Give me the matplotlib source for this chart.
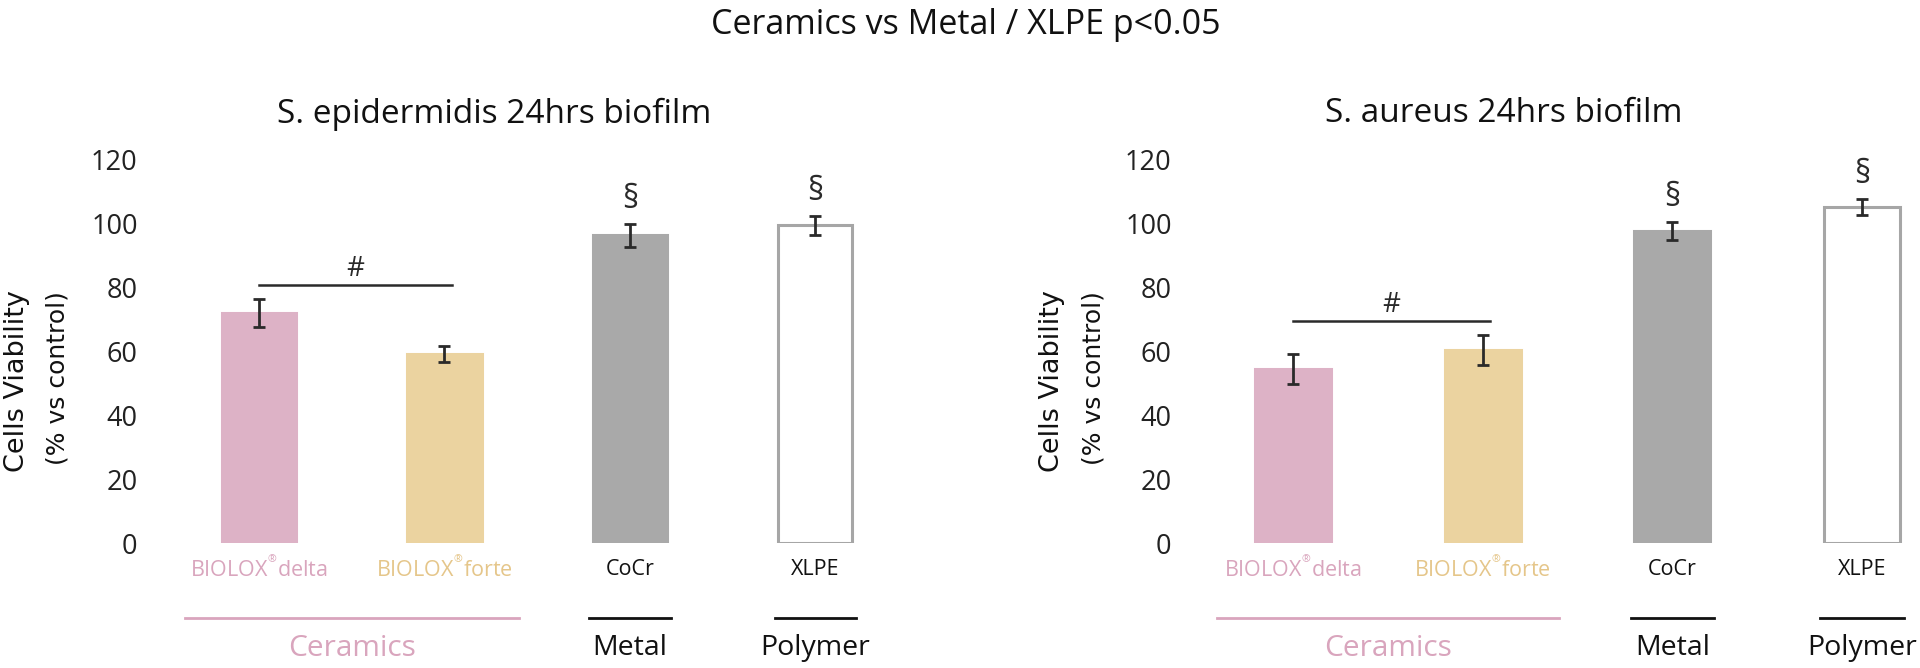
import matplotlib
matplotlib.use("Agg")
import matplotlib.pyplot as plt

plt.rcParams['font.family'] = ['Open Sans', 'DejaVu Sans']
plt.rcParams['mathtext.fontset'] = 'custom'
plt.rcParams['mathtext.rm'] = 'Open Sans'

# ---- data ----
categories = ["BIOLOX${}^{{}^{\\mathrm{®}}}$delta", "BIOLOX${}^{{}^{\\mathrm{®}}}$forte", "CoCr", "XLPE"]
groups = ["Ceramics", "Metal", "Polymer"]
panel_titles = ["S. epidermidis 24hrs biofilm", "S. aureus 24hrs biofilm"]
epi_values = [72.1, 59.2, 96.4, 99.6]
epi_errors = [4.4, 2.4, 3.7, 3.0]
aur_values = [54.5, 60.5, 97.8, 105.2]
aur_errors = [4.7, 4.8, 2.9, 2.5]
yticks = [0, 20, 40, 60, 80, 100, 120]
suptitle = "Ceramics vs Metal / XLPE p<0.05"

pink_bar = "#DDB2C6"
tan_bar = "#EBD3A0"
gray_bar = "#A9A9A9"
pink_txt = "#D9A5BD"
tan_txt = "#E5C68A"
bar_colors = [pink_bar, tan_bar, gray_bar, "white"]
edge_colors = [pink_bar, tan_bar, gray_bar, "#A6A6A6"]
label_colors = [pink_txt, tan_txt, "#111111", "#111111"]

fig = plt.figure(figsize=(19.2, 6.68), dpi=100)

panels = [
    dict(rect=[148/1920, 0.1871, 760/1920, 0.5734], xlim=(-0.599, 3.5),
         vals=epi_values, errs=epi_errors, title=panel_titles[0], title_x=494/1920,
         ylab_x=(17/1920, 58/1920)),
    dict(rect=[1182/1920, 0.1871, 737/1920, 0.5734], xlim=(-0.585, 3.3),
         vals=aur_values, errs=aur_errors, title=panel_titles[1], title_x=1504/1920,
         ylab_x=(1052/1920, 1093/1920)),
]

for p in panels:
    ax = fig.add_axes(p['rect'])
    x = list(range(len(categories)))
    ax.bar(x, p['vals'], width=0.4, color=bar_colors, edgecolor=edge_colors,
           linewidth=2.2, zorder=2)
    ax.errorbar(x, p['vals'], yerr=p['errs'], fmt='none', ecolor='#2a2a2a',
                elinewidth=2.0, capsize=4.5, capthick=2.0, zorder=3)
    ax.set_xlim(*p['xlim'])
    ax.set_ylim(0, 120)
    ax.set_yticks(yticks)
    ax.tick_params(axis='y', length=0, pad=7.5, labelsize=19.5, labelcolor='#222222')
    ax.set_xticks([])
    for s in ax.spines.values():
        s.set_visible(False)

    # significance bar (#) between the ceramics
    top = max(p['vals'][0] + p['errs'][0], p['vals'][1] + p['errs'][1])
    ax.plot([0, 1.04], [top + 4.3, top + 4.3], color='#2a2a2a', lw=1.8, clip_on=False)
    ax.text(0.52, top + 9.4, "#", ha='center', va='center', fontsize=20, color='#2a2a2a')
    # section marks
    for i in (2, 3):
        ax.text(i, p['vals'][i] + p['errs'][i] + 7.6, "§", ha='center', va='center',
                fontsize=23, color='#2a2a2a')

    # category labels
    for i, lab in enumerate(categories):
        ax.text(i, -8.2, lab, ha='center', va='center', fontsize=15.5,
                color=label_colors[i], clip_on=False)
    # group lines and labels
    ax.plot([-0.4, 1.4], [-23.5, -23.5], color=pink_txt, lw=2.0, clip_on=False)
    ax.plot([1.78, 2.22], [-23.5, -23.5], color='#111111', lw=2.0, clip_on=False)
    ax.plot([2.78, 3.22], [-23.5, -23.5], color='#111111', lw=2.0, clip_on=False)
    ax.text(0.5, -33.0, groups[0], ha='center', va='center', fontsize=21.5,
            color=pink_txt, clip_on=False)
    ax.text(2, -33.0, groups[1], ha='center', va='center', fontsize=20.5,
            color='#111111', clip_on=False)
    ax.text(3, -33.0, groups[2], ha='center', va='center', fontsize=20.5,
            color='#111111', clip_on=False)

    fig.text(p['title_x'], 1 - 114/668, p['title'], ha='center', va='center',
             fontsize=24, color='#111111')
    fig.text(p['ylab_x'][0], 1 - 381/668, "Cells Viability", rotation=90,
             ha='center', va='center', fontsize=19.5, color='#111111',
             family=['DejaVu Sans'])
    fig.text(p['ylab_x'][1], 1 - 378/668, "(% vs control)", rotation=90,
             ha='center', va='center', fontsize=18, color='#111111',
             family=['DejaVu Sans'])

fig.text(966/1920, 1 - 25/668, suptitle, ha='center', va='center', fontsize=24.5,
         color='#111111')

fig.savefig("out.png", dpi=100)
